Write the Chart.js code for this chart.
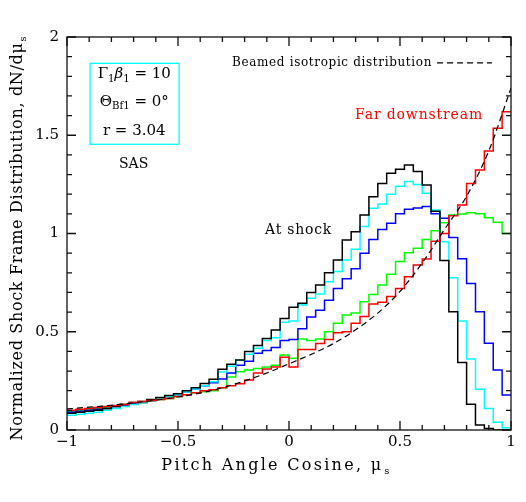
<!DOCTYPE html>
<html><head><meta charset="utf-8">
<script src="https://cdn.jsdelivr.net/npm/chart.js@4"></script>
<style>html,body{margin:0;padding:0;background:#fff}#wrap{width:526px;height:502px}</style>
</head><body><div id="wrap"><canvas id="c" width="526" height="502"></canvas></div>
<script>
// ---------- DATA ----------
const binCount = 50;
const xMin = -1, xMax = 1;
const xTickValues = [-1, -0.5, 0, 0.5, 1];
const xTickLabels = ['\u22121', '\u22120.5', '0', '0.5', '1'];
const yTickValues = [0, 0.5, 1, 1.5, 2];
const yTickLabels = ['0', '0.5', '1', '1.5', '2'];

// At shock (black)
const atShock = [0.085,0.09,0.095,0.10,0.11,0.12,0.13,0.14,0.145,0.155,
  0.165,0.175,0.185,0.20,0.215,0.237,0.258,0.309,0.334,0.356,
  0.40,0.43,0.466,0.509,0.568,0.625,0.645,0.70,0.738,0.80,
  0.865,0.967,1.009,1.094,1.187,1.255,1.306,1.327,1.349,1.315,
  1.247,1.113,0.862,0.602,0.343,0.131,0.025,0.008,0,0];
// cyan
const cyanSeries = [0.075,0.08,0.085,0.09,0.10,0.11,0.12,0.13,0.14,0.15,
  0.16,0.17,0.18,0.195,0.21,0.225,0.245,0.295,0.325,0.355,
  0.385,0.416,0.455,0.47,0.548,0.555,0.636,0.67,0.692,0.755,
  0.806,0.865,0.92,1.035,1.128,1.15,1.20,1.24,1.265,1.25,
  1.205,1.12,0.958,0.775,0.555,0.361,0.207,0.11,0.039,0.012];
// blue
const blueSeries = [0.09,0.095,0.10,0.105,0.11,0.12,0.125,0.135,0.14,0.15,
  0.16,0.17,0.18,0.195,0.21,0.225,0.24,0.26,0.29,0.33,
  0.35,0.39,0.405,0.42,0.455,0.46,0.515,0.575,0.61,0.66,
  0.72,0.77,0.82,0.90,0.97,1.02,1.052,1.10,1.123,1.13,
  1.137,1.10,1.077,0.98,0.872,0.746,0.602,0.441,0.305,0.178];
// green
const greenSeries = [0.095,0.10,0.105,0.11,0.115,0.12,0.13,0.135,0.14,0.15,
  0.155,0.16,0.17,0.18,0.19,0.195,0.20,0.215,0.27,0.297,
  0.305,0.313,0.32,0.33,0.382,0.365,0.463,0.455,0.463,0.50,
  0.543,0.585,0.595,0.653,0.69,0.738,0.792,0.857,0.902,0.925,
  0.97,1.014,1.055,1.094,1.099,1.106,1.10,1.08,1.057,1.0];
// Far downstream (red)
const farDownstream = [0.10,0.105,0.11,0.115,0.12,0.125,0.13,0.14,0.145,0.15,
  0.155,0.16,0.17,0.18,0.19,0.20,0.205,0.215,0.225,0.235,
  0.255,0.29,0.31,0.32,0.37,0.32,0.41,0.41,0.44,0.46,
  0.495,0.50,0.543,0.577,0.641,0.65,0.68,0.72,0.78,0.84,
  0.87,0.96,1.00,1.09,1.145,1.255,1.323,1.42,1.535,1.62];
// Beamed isotropic distribution (dashed)
const beamedX = [-1,-0.9,-0.8,-0.7,-0.6,-0.5,-0.4,-0.3,-0.2,-0.1,0,0.1,0.2,0.3,0.4,0.5,0.6,0.7,0.8,0.9,1.0];
const beamedY = [0.107,0.116,0.126,0.138,0.152,0.168,0.188,0.215,0.25,0.29,0.337,0.385,0.44,0.51,0.595,0.705,0.85,1.02,1.19,1.42,1.74];

// ---------- BUILD ----------
const edges = Array.from({length: binCount}, (_, k) => xMin + k * (xMax - xMin) / binCount);
function histPoints(vals) {
  // first point at left edge, then one point per bin at its right edge
  const p = [{x: edges[0], y: vals[0]}];
  vals.forEach((v, k) => p.push({x: k + 1 < binCount ? edges[k + 1] : xMax, y: v}));
  return p;
}
function hist(vals, color, order) {
  return {data: histPoints(vals), borderColor: color, borderWidth: 1.5, stepped: 'after',
    pointRadius: 0, fill: false, order: order};
}

const SERIF = '"DejaVu Serif", serif';

function drawRich(ctx, segs, x, y, size, align) {
  const widths = segs.map(s => {
    ctx.font = (s[2] ? 'italic ' : '') + (s[1] ? size * 0.68 : size) + 'px ' + SERIF;
    return ctx.measureText(s[0]).width;
  });
  const total = widths.reduce((a, b) => a + b, 0);
  let cx = align === 'center' ? x - total / 2 : x;
  ctx.textAlign = 'left';
  ctx.textBaseline = 'middle';
  segs.forEach((s, i) => {
    ctx.font = (s[2] ? 'italic ' : '') + (s[1] ? size * 0.68 : size) + 'px ' + SERIF;
    ctx.fillText(s[0], cx, y + (s[1] ? size * 0.32 : 0));
    cx += widths[i];
  });
}
function drawFit(ctx, text, cx, cy, size, target, color) {
  ctx.font = size + 'px ' + SERIF;
  ctx.letterSpacing = '0px';
  const w = ctx.measureText(text).width;
  const n = [...text].length;
  const sp = (target - w) / n;
  ctx.letterSpacing = sp + 'px';
  ctx.fillStyle = color;
  ctx.textAlign = 'left';
  ctx.textBaseline = 'middle';
  ctx.fillText(text, cx - target / 2, cy);
  ctx.letterSpacing = '0px';
}

const decor = {
  id: 'decor',
  afterDraw(chart) {
    const ctx = chart.ctx, xs = chart.scales.x, ys = chart.scales.y, a = chart.chartArea;
    const X = v => xs.getPixelForValue(v), Y = v => ys.getPixelForValue(v);
    ctx.save();
    ctx.strokeStyle = '#111'; ctx.lineWidth = 1.3; ctx.setLineDash([]);
    ctx.strokeRect(a.left, a.top, a.right - a.left, a.bottom - a.top);
    ctx.beginPath();
    for (let i = 0; i <= 20; i++) {
      const v = xMin + i * 0.1, px = X(v), L = (i % 5 === 0) ? 9 : 5;
      ctx.moveTo(px, a.bottom); ctx.lineTo(px, a.bottom - L);
      ctx.moveTo(px, a.top); ctx.lineTo(px, a.top + L);
    }
    for (let i = 0; i <= 20; i++) {
      const v = i * 0.1, py = Y(v), L = (i % 5 === 0) ? 9 : 5;
      ctx.moveTo(a.left, py); ctx.lineTo(a.left + L, py);
      ctx.moveTo(a.right, py); ctx.lineTo(a.right - L, py);
    }
    ctx.stroke();
    ctx.fillStyle = '#000';
    ctx.font = '15px ' + SERIF;
    ctx.textAlign = 'center'; ctx.textBaseline = 'middle';
    xTickValues.forEach((v, i) => ctx.fillText(xTickLabels[i], X(v), a.bottom + 12));
    ctx.textAlign = 'right';
    yTickValues.forEach((v, i) => ctx.fillText(yTickLabels[i], a.left - 8, Y(v)));
    // axis titles
    drawFit(ctx, 'Pitch Angle Cosine, \u03bc', X(-0.075), a.bottom + 36, 16, 222, '#000');
    ctx.font = '10px ' + SERIF; ctx.textAlign = 'left'; ctx.textBaseline = 'middle';
    ctx.fillText('s', X(-0.075) + 111 + 1, a.bottom + 41);
    ctx.save();
    ctx.translate(18, (a.top + a.bottom) / 2 + 4);
    ctx.rotate(-Math.PI / 2);
    drawFit(ctx, 'Normalized Shock Frame Distribution, dN/d\u03bc', -4, 0, 16, 398, '#000');
    ctx.font = '10px ' + SERIF; ctx.textAlign = 'left'; ctx.textBaseline = 'middle';
    ctx.fillText('s', -4 + 199 + 1, 5);
    ctx.restore();
    // info box
    ctx.strokeStyle = '#00ffff'; ctx.lineWidth = 1.3;
    ctx.strokeRect(X(-0.896), Y(1.866), X(-0.495) - X(-0.896), Y(1.454) - Y(1.866));
    ctx.fillStyle = '#000';
    drawRich(ctx, [['\u0393', false], ['1', true], ['\u03b2', false, true], ['1', true], [' = 10', false]], X(-0.697), Y(1.81), 15, 'center');
    drawRich(ctx, [['\u0398', false], ['Bf1', true], [' = 0\u00b0', false]], X(-0.697), Y(1.67), 15, 'center');
    drawRich(ctx, [['r = 3.04', false]], X(-0.697), Y(1.52), 15, 'center');
    drawRich(ctx, [['SAS', false]], X(-0.70), Y(1.35), 14, 'center');
    // labels
    drawFit(ctx, 'At shock', X(0.043), Y(1.018), 14, 67, '#000');
    drawFit(ctx, 'Far downstream', X(0.586), Y(1.603), 14, 128, '#ff0000');
    drawFit(ctx, 'Beamed isotropic distribution', X(0.194), Y(1.868), 12, 200, '#000');
    ctx.strokeStyle = '#000'; ctx.lineWidth = 1.2; ctx.setLineDash([6, 4]);
    ctx.beginPath(); ctx.moveTo(X(0.667), Y(1.868)); ctx.lineTo(X(0.914), Y(1.868)); ctx.stroke();
    ctx.restore();
  }
};

new Chart(document.getElementById('c'), {
  type: 'line',
  data: {
    datasets: [
      {data: beamedX.map((x, i) => ({x: x, y: beamedY[i]})), borderColor: '#000', borderWidth: 1.2,
        borderDash: [6, 4], cubicInterpolationMode: 'monotone', pointRadius: 0, fill: false, order: 0},
      hist(farDownstream, '#ff0000', 1),
      hist(atShock, '#000000', 2),
      hist(cyanSeries, '#00ffff', 3),
      hist(blueSeries, '#0000ff', 4),
      hist(greenSeries, '#00ff00', 5)
    ]
  },
  options: {
    responsive: false, animation: false, devicePixelRatio: 1,
    layout: {padding: {top: 37, right: 15, left: 0, bottom: 0}},
    plugins: {legend: {display: false}, tooltip: {enabled: false}},
    scales: {
      x: {type: 'linear', min: xMin, max: xMax, afterFit: s => { s.height = 72; },
        ticks: {display: false}, grid: {display: false}, border: {display: false}},
      y: {type: 'linear', min: 0, max: 2, afterFit: s => { s.width = 67; },
        ticks: {display: false}, grid: {display: false}, border: {display: false}}
    }
  },
  plugins: [decor]
});
</script></body></html>
